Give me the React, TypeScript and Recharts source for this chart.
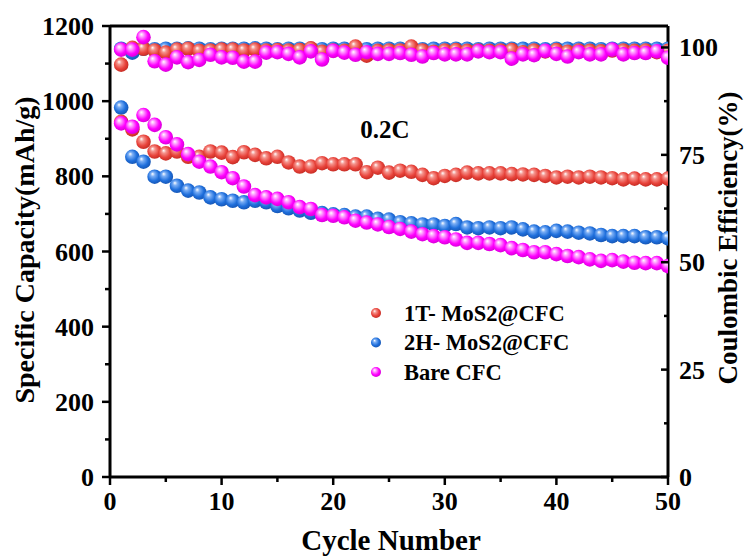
import React from "react";
import {
  ScatterChart,
  Scatter,
  XAxis,
  YAxis,
  ReferenceLine,
} from "recharts";

const cycles = [
  1, 2, 3, 4, 5, 6, 7, 8, 9, 10, 11, 12, 13, 14, 15, 16, 17, 18, 19, 20, 21,
  22, 23, 24, 25, 26, 27, 28, 29, 30, 31, 32, 33, 34, 35, 36, 37, 38, 39, 40,
  41, 42, 43, 44, 45, 46, 47, 48, 49, 50,
];

// specific capacity (mAh/g)
const cap1T = [
  945, 925, 892, 866, 861, 866, 852, 852, 866, 863, 851, 864, 857, 848, 852,
  837, 826, 826, 835, 832, 832, 832, 811, 823, 810, 815, 812, 804, 795, 801,
  804, 810, 808, 808, 808, 806, 805, 804, 801, 797, 799, 797, 799, 797, 795,
  792, 794, 792, 792, 794,
];
const cap2H = [
  983, 852, 839, 799, 799, 775, 762, 757, 744, 739, 735, 731, 735, 731, 721,
  715, 709, 703, 702, 699, 697, 693, 693, 687, 685, 678, 675, 672, 672, 668,
  673, 664, 662, 664, 662, 664, 659, 653, 651, 655, 653, 650, 648, 644, 641,
  641, 641, 638, 638, 635,
];
const capBare = [
  941, 932, 963, 937, 904, 885, 859, 839, 826, 811, 795, 773, 750, 744, 740,
  731, 718, 713, 697, 695, 691, 682, 677, 672, 665, 660, 653, 646, 641, 638,
  632, 623, 623, 620, 617, 609, 604, 598, 598, 593, 588, 585, 579, 575, 577,
  573, 570, 569, 569, 561,
];

// coulombic efficiency (%)
const ce1T = [
  96.0, 99.9, 99.7, 99.3, 98.8, 99.5, 99.7, 99.2, 99.3, 99.5, 99.5, 99.3, 99.5,
  99.3, 99.4, 99.3, 99.4, 99.8, 99.0, 99.3, 99.2, 100.2, 98.1, 99.2, 99.3, 99.3,
  100.2, 99.3, 99.0, 99.3, 99.4, 99.2, 99.3, 99.2, 99.3, 99.4, 98.9, 99.3, 99.1,
  99.4, 99.0, 99.3, 99.2, 99.1, 99.3, 99.3, 99.2, 99.3, 98.9, 99.2,
];
const ce2H = [
  99.7, 98.8, 99.7, 99.6, 99.7, 99.7, 99.8, 99.7, 99.6, 99.7, 99.7, 99.7, 99.8,
  99.7, 99.6, 99.7, 99.7, 99.7, 99.6, 99.7, 99.7, 99.7, 99.6, 99.7, 99.7, 99.7,
  99.7, 99.6, 99.7, 99.7, 99.7, 99.7, 99.6, 99.7, 99.7, 99.7, 99.7, 99.7, 99.6,
  99.7, 99.7, 99.7, 99.7, 99.6, 99.7, 99.7, 99.7, 99.7, 99.7, 99.7,
];
const ceBare = [
  99.5, 99.5, 102.4, 96.8, 96.0, 97.7, 96.6, 97.1, 98.3, 97.7, 97.6, 96.7, 96.7,
  98.8, 98.9, 98.5, 97.7, 99.1, 97.2, 99.2, 98.8, 98.3, 98.9, 98.5, 98.5, 98.7,
  98.3, 97.9, 98.7, 98.4, 98.4, 98.4, 99.1, 98.9, 98.9, 97.4, 98.4, 98.2, 99.2,
  98.5, 97.9, 98.9, 98.4, 98.4, 99.5, 98.4, 98.7, 98.7, 99.1, 97.6,
];

const xTicks = [0, 5, 10, 15, 20, 25, 30, 35, 40, 45, 50];
const capTicks = [0, 100, 200, 300, 400, 500, 600, 700, 800, 900, 1000, 1100, 1200];
const ceTicks = [0, 12.5, 25, 37.5, 50, 62.5, 75, 87.5, 100];

const seriesNames = ["1T- MoS2@CFC", "2H- MoS2@CFC", "Bare CFC"];

const toPoints = (vals: number[]) => cycles.map((c, i) => ({ x: c, y: vals[i] }));

const FONT = "'Liberation Serif', 'Times New Roman', serif";

const LeftTick = (props: any) => {
  const { x, y, payload } = props;
  const major = payload.value % 200 === 0;
  return (
    <g>
      <line x1={x} x2={x - (major ? 8 : 5)} y1={y} y2={y} stroke="#000" strokeWidth={2.5} />
      {major && (
        <text x={x - 16} y={y + 9} textAnchor="end" fontFamily={FONT} fontWeight="bold" fontSize={26} fill="#000">
          {payload.value}
        </text>
      )}
    </g>
  );
};

const RightTick = (props: any) => {
  const { x, y, payload } = props;
  const major = payload.value % 25 === 0;
  return (
    <g>
      <line x1={x} x2={x - (major ? 7 : 4)} y1={y} y2={y} stroke="#000" strokeWidth={2.5} />
      {major && (
        <text x={x + 11} y={y + 9} textAnchor="start" fontFamily={FONT} fontWeight="bold" fontSize={26} fill="#000">
          {payload.value}
        </text>
      )}
    </g>
  );
};

const BottomTick = (props: any) => {
  const { x, y, payload } = props;
  const major = payload.value % 10 === 0;
  return (
    <g>
      <line x1={x} x2={x} y1={y} y2={y + (major ? 8 : 5)} stroke="#000" strokeWidth={2.5} />
      {major && (
        <text x={x} y={y + 33} textAnchor="middle" fontFamily={FONT} fontWeight="bold" fontSize={26} fill="#000">
          {payload.value}
        </text>
      )}
    </g>
  );
};

const ball = (id: string, r = 7.3) => (props: any) =>
  <circle cx={props.cx} cy={props.cy} r={r} fill={`url(#${id})`} />;

const legendItems = [
  { name: seriesNames[0], grad: "gRed" },
  { name: seriesNames[1], grad: "gBlue" },
  { name: seriesNames[2], grad: "gPink" },
];

const gradient = (id: string, light: string, base: string, dark: string) => (
  <radialGradient id={id} cx="0.45" cy="0.45" r="0.6" fx="0.35" fy="0.3">
    <stop offset="0%" stopColor="#ffffff" />
    <stop offset="25%" stopColor={light} />
    <stop offset="65%" stopColor={base} />
    <stop offset="100%" stopColor={dark} />
  </radialGradient>
);

export default function App() {
  return (
    <div style={{ position: "absolute", left: 0, top: 0, width: 744, height: 556, background: "#fff" }}>
      <ScatterChart width={744} height={556} margin={{ top: 26, right: 0, bottom: 0, left: 0 }}>
        <defs>
          {gradient("gRed", "#f5948d", "#e8433b", "#c0271f")}
          {gradient("gBlue", "#7aaef5", "#1f6fdc", "#1552ae")}
          {gradient("gPink", "#ff9cff", "#ff00ff", "#d000d0")}
        </defs>
        <XAxis
          type="number"
          dataKey="x"
          domain={[0, 50]}
          ticks={xTicks}
          height={79}
          tickSize={0}
          tickMargin={0}
          tick={<BottomTick />}
          tickLine={false}
          axisLine={{ stroke: "#000", strokeWidth: 3 }}
          interval={0}
          allowDataOverflow
        />
        <YAxis
          yAxisId="cap"
          type="number"
          dataKey="y"
          domain={[0, 1200]}
          ticks={capTicks}
          width={110}
          tickSize={0}
          tickMargin={0}
          tick={<LeftTick />}
          tickLine={false}
          axisLine={{ stroke: "#000", strokeWidth: 3 }}
          interval={0}
          allowDataOverflow
        />
        <YAxis
          yAxisId="ce"
          orientation="right"
          type="number"
          dataKey="y"
          domain={[0, 105]}
          ticks={ceTicks}
          width={76}
          tickSize={0}
          tickMargin={0}
          tick={<RightTick />}
          tickLine={false}
          axisLine={{ stroke: "#000", strokeWidth: 3 }}
          interval={0}
          allowDataOverflow
        />
        <ReferenceLine yAxisId="cap" y={1200} stroke="#000" strokeWidth={3} />
        <Scatter yAxisId="cap" name={seriesNames[1]} data={toPoints(cap2H)} shape={ball("gBlue")} isAnimationActive={false} />
        <Scatter yAxisId="cap" name={seriesNames[0]} data={toPoints(cap1T)} shape={ball("gRed")} isAnimationActive={false} />
        <Scatter yAxisId="cap" name={seriesNames[2]} data={toPoints(capBare)} shape={ball("gPink")} isAnimationActive={false} />
        <Scatter yAxisId="ce" name="ce2H" data={toPoints(ce2H)} shape={ball("gBlue")} isAnimationActive={false} />
        <Scatter yAxisId="ce" name="ce1T" data={toPoints(ce1T)} shape={ball("gRed")} isAnimationActive={false} />
        <Scatter yAxisId="ce" name="ceBare" data={toPoints(ceBare)} shape={ball("gPink")} isAnimationActive={false} />
        <g>
          {legendItems.map((it, i) => (
            <g key={it.name}>
              <circle cx={376} cy={313 + i * 29.5} r={5} fill={`url(#${it.grad})`} />
              <text x={404} y={320.5 + i * 29.5} fontFamily={FONT} fontWeight="bold" fontSize={22.5} fill="#000">
                {it.name}
              </text>
            </g>
          ))}
        </g>
        <text x={385} y={138} textAnchor="middle" fontFamily={FONT} fontWeight="bold" fontSize={25} fill="#000">
          0.2C
        </text>
        <text
          x={34}
          y={250}
          transform="rotate(-90 34 250)"
          textAnchor="middle"
          fontFamily={FONT}
          fontWeight="bold"
          fontSize={28}
          fill="#000"
        >
          Specific Capacity(mAh/g)
        </text>
        <text
          x={737}
          y={238}
          transform="rotate(-90 737 238)"
          textAnchor="middle"
          fontFamily={FONT}
          fontWeight="bold"
          fontSize={27}
          fill="#000"
        >
          Coulombic Efficiency(%)
        </text>
        <text x={391} y={550} textAnchor="middle" fontFamily={FONT} fontWeight="bold" fontSize={29} fill="#000">
          Cycle Number
        </text>
      </ScatterChart>
    </div>
  );
}
